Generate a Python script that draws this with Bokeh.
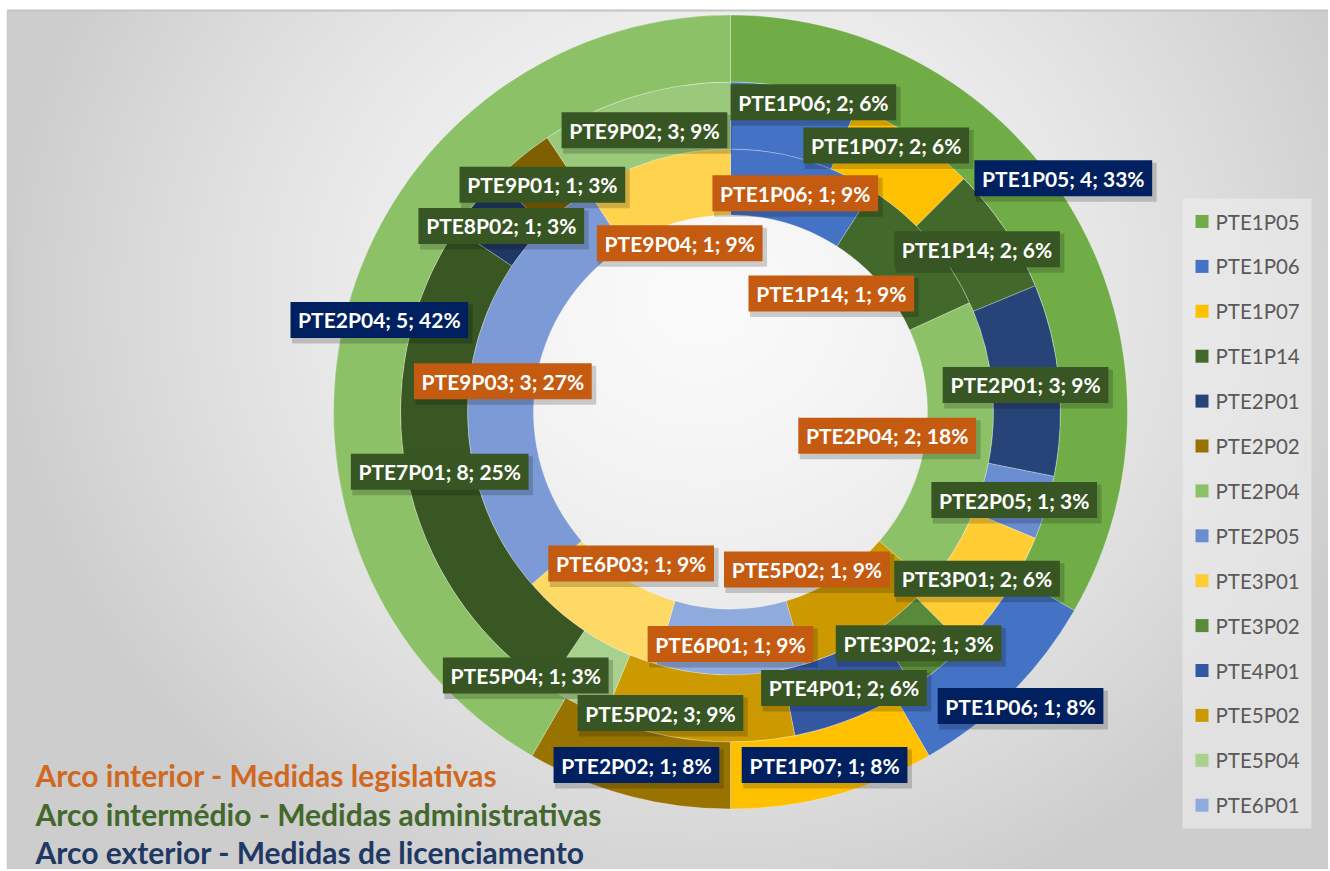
import numpy as np
from bokeh.plotting import figure
from bokeh.models import Range1d, ColumnDataSource
from bokeh.core.properties import value
from bokeh.embed import file_html
from bokeh.resources import INLINE

# ---------------- data ----------------
categories = ["PTE1P05", "PTE1P06", "PTE1P07", "PTE1P14", "PTE2P01", "PTE2P02", "PTE2P04",
              "PTE2P05", "PTE3P01", "PTE3P02", "PTE4P01", "PTE5P02", "PTE5P04", "PTE6P01",
              "PTE6P03", "PTE7P01", "PTE8P02", "PTE9P01", "PTE9P02", "PTE9P03", "PTE9P04"]
colors = ["#70AD47", "#4472C4", "#FFC000", "#43682B", "#264478", "#997300", "#8CC168",
          "#6A8CD0", "#FFCD33", "#598A39", "#3358A1", "#CC9A00", "#A9D18E", "#8FAADC",
          "#FFD966", "#385723", "#203864", "#7F6000", "#9AC97B", "#7C9BD6", "#FFD34D"]
legislativas    = [0, 1, 0, 1, 0, 0, 2, 0, 0, 0, 0, 1, 0, 1, 1, 0, 0, 0, 0, 3, 1]
administrativas = [0, 2, 2, 2, 3, 0, 0, 1, 2, 1, 2, 3, 1, 0, 0, 8, 1, 1, 3, 0, 0]
licenciamento   = [4, 1, 1, 0, 0, 1, 5, 0, 0, 0, 0, 0, 0, 0, 0, 0, 0, 0, 0, 0, 0]
ring_titles = ["Arco interior - Medidas legislativas",
               "Arco intermédio - Medidas administrativas",
               "Arco exterior - Medidas de licenciamento"]
legend_count = 14

# ---------------- layout / style ----------------
FW, FH = 1328, 869
def Y(img_y):
    return FH - img_y

CX, CY = 730, Y(411.5)
RADII = [197, 263, 330, 397]
ring_box_colors = ["#C55A11", "#375623", "#002060"]
title_colors = ["#D0691F", "#43682B", "#1F3864"]
label_font_px = 21
box_h = 36

nudges = {
    (2, "PTE1P05"): (18, -54), (2, "PTE1P06"): (33, 35),
    (1, "PTE1P06"): (25, -21), (1, "PTE1P07"): (-9, -22),
    (1, "PTE5P02"): (-41, 4), (1, "PTE5P04"): (-65, 0),
    (0, "PTE1P14"): (-73, 30), (0, "PTE2P04"): (-71, -11),
    (0, "PTE5P02"): (-48, -38), (0, "PTE6P03"): (25, -44),
    (0, "PTE9P04"): (14, 50),
}

calibri_w = {'P': 0.532, 'T': 0.497, 'E': 0.488, ';': 0.276, ' ': 0.226, '%': 0.729}
def box_width(s):
    return sum(calibri_w.get(c, 0.507) for c in s) * 23.7 + 16

p = figure(width=FW, height=FH, x_range=Range1d(0, FW), y_range=Range1d(0, FH),
           output_backend="svg", toolbar_location=None, min_border=0,
           x_axis_type=None, y_axis_type=None)
p.grid.visible = False
p.outline_line_color = None
p.background_fill_color = "white"
p.border_fill_color = "white"

# background gradient
BX0, BY0 = 7, 10
nx, ny = 331, 215
bw, bh = FW - BX0, FH - BY0
xs = BX0 + (np.arange(nx) + 0.5) * bw / nx
ys_img = BY0 + (np.arange(ny) + 0.5) * bh / ny
XX, YY = np.meshgrid(xs, ys_img[::-1])
r = np.sqrt(((XX - 700) / 700) ** 2 + ((YY - 300) / 650) ** 2)
r = np.clip(r, 0, 1)
g = (250 - 45 * r ** 1.5).astype(np.uint32)
img = (255 << 24) | (g << 16) | (g << 8) | g
p.image_rgba(image=[img.astype(np.uint32)], x=BX0, y=0, dw=bw, dh=bh)
p.line([BX0, FW], [Y(BY0), Y(BY0)], line_color="#C4C4C4", line_width=2)
p.line([BX0, BX0], [Y(BY0), 0], line_color="#C8C8C8", line_width=1.5)

# rings
rings = [legislativas, administrativas, licenciamento]
labels = []
for ri, vals in enumerate(rings):
    tot = sum(vals)
    r_in, r_out = RADII[ri], RADII[ri + 1]
    r_mid = (r_in + r_out) / 2
    cum = 0
    st, en, cols = [], [], []
    for cat, v, c in zip(categories, vals, colors):
        if v <= 0:
            continue
        t1 = cum / tot * 360
        cum += v
        t2 = cum / tot * 360
        st.append(np.radians(90 - t2))
        en.append(np.radians(90 - t1))
        cols.append(c)
        tm = np.radians((t1 + t2) / 2)
        dx, dy = nudges.get((ri, cat), (0, 0))
        lx = CX + r_mid * np.sin(tm) + dx
        ly = CY + r_mid * np.cos(tm) - dy - 2
        txt = f"{cat}; {v}; {round(100 * v / tot)}%"
        labels.append((ri, lx, ly, txt))
    p.annular_wedge(x=CX, y=CY, inner_radius=r_in, outer_radius=r_out,
                    start_angle=st, end_angle=en, color=cols,
                    line_color="white", line_alpha=0.35, line_width=0.8)

# data labels
lx = [l[1] for l in labels]
ly = [l[2] for l in labels]
lt = [l[3] for l in labels]
lw = [box_width(t) for t in lt]
lc = [ring_box_colors[l[0]] for l in labels]
src = ColumnDataSource(dict(x=lx, y=ly, t=lt, w=lw, c=lc,
                            sx=[v + 3 for v in lx], sy=[v - 4 for v in ly],
                            sw=[v + 3 for v in lw]))
p.rect(x="sx", y="sy", width="sw", height=box_h + 3, source=src,
       fill_color="black", fill_alpha=0.18, line_color=None)
p.rect(x="x", y="y", width="w", height=box_h, source=src,
       fill_color="c", line_color=None)
p.text(x="x", y="y", text="t", source=src, text_color="white",
       text_font=value("Lato"), text_font_style="bold", text_font_size=f"{label_font_px}px",
       text_align="center", text_baseline="middle")

# legend
p.rect(x=(1182 + 1311) / 2, y=Y((198 + 828) / 2), width=129, height=630,
       fill_color="#EEEEEE", fill_alpha=0.6, line_color=None)
ly_leg = [Y(221 + 44.9 * i) for i in range(legend_count)]
p.rect(x=1201.5, y=ly_leg, width=13, height=13, fill_color=colors[:legend_count], line_color=None)
p.text(x=1215, y=ly_leg, text=categories[:legend_count], text_color="#595959",
       text_font=value("Lato"), text_font_size="20.5px", text_baseline="middle", text_align="left")

# ring captions
p.text(x=35, y=[Y(774), Y(813), Y(851)], text=ring_titles, text_color=title_colors,
       text_font=value("Lato"), text_font_style="bold", text_font_size="30px",
       text_baseline="middle", text_align="left")

open("out.html", "w").write(file_html(p, INLINE))
